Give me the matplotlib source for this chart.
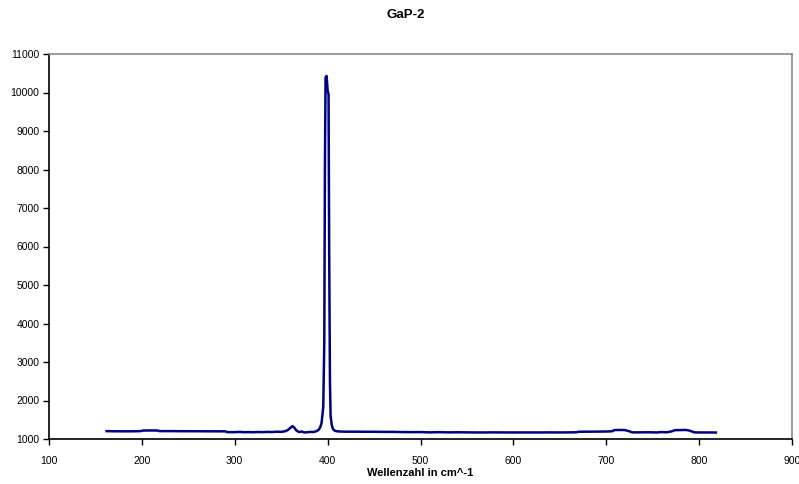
import matplotlib.pyplot as plt

plt.rcParams['font.family'] = ['Liberation Sans', 'DejaVu Sans']

# Raman-Spektrum GaP-2
wellenzahl = [162, 170, 180, 190, 199, 201, 210, 217, 219, 230, 240, 250, 260,
              270, 280, 290, 292, 300, 305, 310, 315, 320, 325, 330, 335, 340,
              345, 350, 354, 357, 360, 362, 364, 366, 369, 372, 375, 378, 381,
              384, 387, 390, 392, 393.5, 395.3, 396.4, 397.1, 397.8, 398.9,
              400.0, 401.0, 401.7, 402.5, 403.2, 404.5, 406, 408, 412, 420,
              430, 440, 450, 460, 470, 480, 490, 500, 510, 520, 530, 540, 550,
              560, 570, 580, 590, 600, 610, 620, 630, 640, 650, 660, 668, 670,
              680, 690, 700, 706, 709, 715, 720, 725, 728, 735, 745, 755, 758,
              765, 770, 774, 780, 786, 790, 795, 800, 810, 818]
intensitaet = [1205, 1200, 1200, 1200, 1205, 1220, 1222, 1220, 1205, 1205,
               1203, 1202, 1202, 1200, 1200, 1198, 1178, 1178, 1185, 1176,
               1180, 1176, 1182, 1178, 1185, 1180, 1190, 1185, 1200, 1230,
               1290, 1335, 1300, 1230, 1180, 1195, 1170, 1175, 1185, 1180,
               1195, 1230, 1300, 1420, 1830, 3500, 8100, 10400, 10430,
               10050, 9950, 5800, 2500, 1600, 1350, 1250, 1210, 1195, 1190,
               1190, 1188, 1188, 1185, 1185, 1180, 1178, 1180, 1172, 1178,
               1172, 1175, 1172, 1170, 1170, 1172, 1170, 1170, 1170, 1170,
               1170, 1172, 1170, 1172, 1175, 1188, 1190, 1192, 1195, 1200,
               1232, 1235, 1232, 1200, 1172, 1172, 1175, 1170, 1180, 1175,
               1195, 1230, 1232, 1235, 1215, 1172, 1170, 1170, 1168]

fig = plt.figure(figsize=(7.99, 4.84), dpi=100)
ax = fig.add_axes([49/799, 45/484, 743/799, 385/484])

ax.plot(wellenzahl, intensitaet, color='#000080', lw=1.8)

ax.set_xlim(100, 900)
ax.set_ylim(1000, 11000)
ax.set_xticks(range(100, 901, 100))
ax.set_yticks(range(1000, 11001, 1000))
ax.tick_params(direction='out', length=4, width=1, labelsize=7.5, colors='black')
ax.tick_params(axis='x', pad=8)
ax.tick_params(axis='y', pad=3)

for s in ['left', 'bottom']:
    ax.spines[s].set_color('black')
    ax.spines[s].set_linewidth(1.2)
for s in ['top', 'right']:
    ax.spines[s].set_color('#8c8c8c')
    ax.spines[s].set_linewidth(1.2)

ax.set_xlabel('Wellenzahl in cm^-1', fontsize=8, fontweight='bold', labelpad=2)
fig.text(406/799, 1 - 15/484, 'GaP-2', ha='center', va='center',
         fontsize=9.5, fontweight='bold')

fig.savefig('out.png', dpi=100)
